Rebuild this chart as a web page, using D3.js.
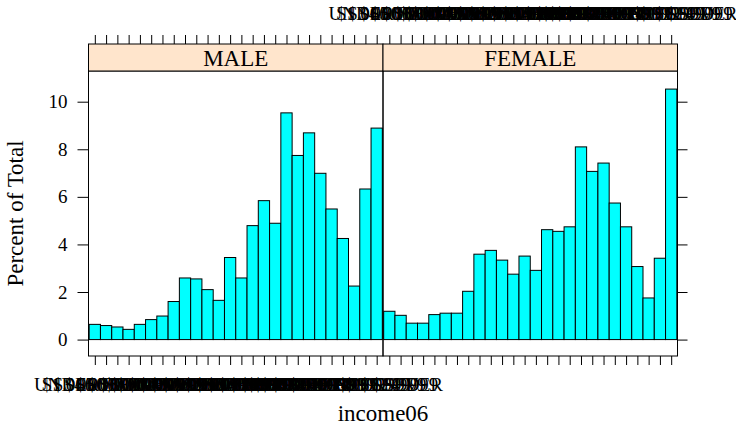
<!DOCTYPE html>
<html>
<head>
<meta charset="utf-8">
<script src="https://cdn.jsdelivr.net/npm/d3@7"></script>
<style>
  body { margin: 0; background: #fff; }
  svg { display: block; font-family: "Liberation Serif", "Times New Roman", serif; }
</style>
</head>
<body>
<svg id="chart" width="736" height="433"></svg>
<script>
// income06 levels (GSS), one bar per level
const incomeLevels = [
  "UNDER $1 000", "$1 000 TO 2 999", "$3 000 TO 3 999", "$4 000 TO 4 999",
  "$5 000 TO 5 999", "$6 000 TO 6 999", "$7 000 TO 7 999", "$8 000 TO 9 999",
  "$10000 TO 12499", "$12500 TO 14999", "$15000 TO 17499", "$17500 TO 19999",
  "$20000 TO 22499", "$22500 TO 24999", "$25000 TO 29999", "$30000 TO 34999",
  "$35000 TO 39999", "$40000 TO 49999", "$50000 TO 59999", "$60000 TO 74999",
  "$75000 TO $89999", "$90000 TO $109999", "$110000 TO $129999", "$130000 TO $149999",
  "$150000 OR OVER", "REFUSED"
];

// percent of total
const malePct = [0.64, 0.59, 0.53, 0.43, 0.64, 0.84, 0.99, 1.60, 2.59, 2.55, 2.10, 1.65, 3.45,
  2.59, 4.79, 5.84, 4.89, 9.53, 7.74, 8.69, 6.99, 5.49, 4.25, 2.25, 6.33, 8.89];
const femalePct = [1.19, 1.02, 0.69, 0.69, 1.05, 1.11, 1.11, 2.03, 3.59, 3.75, 3.34, 2.75, 3.51,
  2.91, 4.62, 4.55, 4.74, 8.10, 7.07, 7.42, 5.74, 4.74, 3.07, 1.75, 3.42, 10.53];

const panelNames = ["MALE", "FEMALE"];
const yTicks = [0, 2, 4, 6, 8, 10];

const svg = d3.select("#chart");

// layout
const panelTop = 71, panelBottom = 356;
const stripTop = 44;
const panelX = [88.5, 383];
const panelW = 294.5;

// scales
let yScale = d3.scaleLinear()
  .domain([-0.69, 11.29])
  .range([panelBottom, panelTop]);

let levelIdx = d3.range(1, incomeLevels.length + 1);

const panels = [malePct, femalePct];

panels.forEach((vals, p) => {
  let x0 = panelX[p];
  let xScale = d3.scaleLinear()
    .domain([0.44, incomeLevels.length + 0.56])
    .range([x0, x0 + panelW]);

  let g = svg.append("g");

  //bars
  g.selectAll("rect.bar")
    .data(vals)
    .enter()
    .append("rect")
      .attr("class", "bar")
      .attr("x", (d, i) => xScale(i + 0.5))
      .attr("width", (d, i) => xScale(i + 1.5) - xScale(i + 0.5))
      .attr("y", d => yScale(d))
      .attr("height", d => yScale(0) - yScale(d))
      .attr("fill", "#00ffff")
      .attr("stroke", "black")
      .attr("stroke-width", 1);

  //panel border
  g.append("rect")
    .attr("x", x0)
    .attr("y", panelTop)
    .attr("width", panelW)
    .attr("height", panelBottom - panelTop)
    .attr("fill", "none")
    .attr("stroke", "black")
    .attr("stroke-width", 1);

  //strip
  g.append("rect")
    .attr("x", x0)
    .attr("y", stripTop)
    .attr("width", panelW)
    .attr("height", panelTop - stripTop)
    .attr("fill", "#ffe5cc")
    .attr("stroke", "black")
    .attr("stroke-width", 1);
  g.append("text")
    .attr("x", x0 + panelW / 2)
    .attr("y", (stripTop + panelTop) / 2)
    .attr("dy", "0.35em")
    .attr("text-anchor", "middle")
    .style("font-size", "23px")
    .text(panelNames[p]);

  // bottom axis: labels on first column only
  let bottomAxis = d3.axisBottom(xScale)
    .tickValues(levelIdx)
    .tickSize(9)
    .tickPadding(12.5)
    .tickFormat(p === 0 ? (d => incomeLevels[d - 1]) : "");
  g.append("g")
    .attr("transform", `translate(0,${panelBottom})`)
    .call(bottomAxis)
    .call(a => a.select(".domain").remove())
    .call(a => a.selectAll("text").style("font-size", "19px").attr("fill", "black")
      .style("font-family", "'Liberation Serif', 'Times New Roman', serif"));

  // top axis: labels on second column only
  let topAxis = d3.axisTop(xScale)
    .tickValues(levelIdx)
    .tickSize(9)
    .tickPadding(15)
    .tickFormat(p === 1 ? (d => incomeLevels[d - 1]) : "");
  g.append("g")
    .attr("transform", `translate(0,${stripTop})`)
    .call(topAxis)
    .call(a => a.select(".domain").remove())
    .call(a => a.selectAll("text").style("font-size", "19px").attr("fill", "black")
      .style("font-family", "'Liberation Serif', 'Times New Roman', serif"));
});

// left y axis with labels
let yAxis = d3.axisLeft(yScale)
  .tickValues(yTicks)
  .tickSize(11)
  .tickPadding(10);
svg.append("g")
  .attr("transform", `translate(${panelX[0]},0)`)
  .call(yAxis)
  .call(a => a.select(".domain").remove())
  .call(a => a.selectAll("text").style("font-size", "19px").attr("fill", "black")
    .style("font-family", "'Liberation Serif', 'Times New Roman', serif"));

// right y axis, ticks only
let yAxisR = d3.axisRight(yScale)
  .tickValues(yTicks)
  .tickSize(10)
  .tickFormat("");
svg.append("g")
  .attr("transform", `translate(${panelX[1] + panelW},0)`)
  .call(yAxisR)
  .call(a => a.select(".domain").remove());

// axis titles
svg.append("text")
  .attr("transform", `translate(23,${(panelTop + panelBottom) / 2}) rotate(-90)`)
  .attr("text-anchor", "middle")
  .style("font-size", "23px")
  .text("Percent of Total");

svg.append("text")
  .attr("x", panelX[0] + panelW)
  .attr("y", 421)
  .attr("text-anchor", "middle")
  .style("font-size", "23px")
  .text("income06");
</script>
</body>
</html>
